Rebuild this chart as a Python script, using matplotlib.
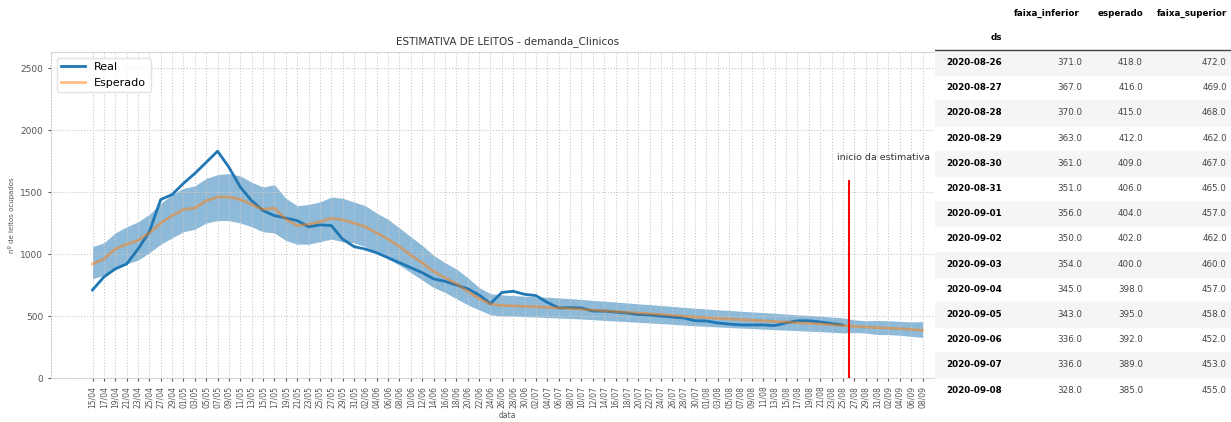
import pandas as pd
import matplotlib
matplotlib.use("Agg")
import matplotlib.pyplot as plt
import matplotlib.dates as mdates

# ==== dados (pontos a cada 2 dias) ====
datas = pd.date_range("2020-04-15", "2020-09-08", freq="2D")

real = [710, 815, 880, 920, 1040, 1180, 1440, 1480, 1570, 1650,
        1740, 1830, 1700, 1540, 1430, 1350, 1310, 1290, 1270, 1220,
        1235, 1230, 1120, 1060, 1040, 1010, 970, 930, 890, 850,
        800, 780, 750, 720, 670, 600, 690, 700, 675, 665,
        610, 565, 568, 565, 540, 540, 532, 524, 512, 508,
        500, 492, 484, 462, 460, 444, 435, 428, 428, 428,
        423, 444, 462, 462, 452, 440, 428]

esperado = [920, 960, 1040, 1080, 1110, 1170, 1250, 1310, 1360, 1370,
            1430, 1460, 1460, 1440, 1400, 1360, 1370, 1280, 1230, 1240,
            1260, 1290, 1275, 1250, 1220, 1170, 1120, 1060, 990, 930,
            860, 810, 760, 700, 640, 597, 585, 582, 578, 575,
            570, 565, 560, 555, 548, 542, 536, 530, 524, 518,
            512, 505, 498, 492, 487, 481, 476, 471, 466, 461,
            456, 451, 446, 441, 436, 430, 424, 416, 412, 406,
            402, 398, 392, 385]

faixa_inf = [800, 830, 880, 920, 950, 1010, 1080, 1130, 1180, 1200,
             1250, 1270, 1270, 1250, 1220, 1180, 1170, 1110, 1080, 1080,
             1100, 1120, 1100, 1090, 1060, 1010, 960, 910, 850, 790,
             730, 690, 640, 590, 550, 510, 500, 500, 495, 492,
             488, 484, 480, 476, 470, 465, 460, 455, 449, 444,
             439, 433, 427, 421, 417, 412, 407, 403, 399, 394,
             390, 386, 382, 378, 374, 369, 364, 367, 363, 351,
             350, 345, 336, 328]

faixa_sup = [1060, 1090, 1170, 1220, 1260, 1320, 1410, 1480, 1530, 1550,
             1610, 1640, 1650, 1630, 1580, 1540, 1560, 1450, 1390, 1400,
             1420, 1460, 1450, 1420, 1390, 1330, 1280, 1210, 1140, 1070,
             990, 930, 880, 810, 730, 680, 670, 665, 660, 656,
             652, 646, 640, 634, 626, 620, 613, 606, 598, 592,
             585, 578, 570, 563, 557, 550, 545, 539, 533, 528,
             522, 516, 510, 505, 499, 492, 485, 469, 462, 465,
             462, 457, 452, 455]

inicio = pd.Timestamp("2020-08-26")

# tabela de previsao ao lado
tab_ds = ["2020-08-26", "2020-08-27", "2020-08-28", "2020-08-29", "2020-08-30",
          "2020-08-31", "2020-09-01", "2020-09-02", "2020-09-03", "2020-09-04",
          "2020-09-05", "2020-09-06", "2020-09-07", "2020-09-08"]
tab_inf = [371.0, 367.0, 370.0, 363.0, 361.0, 351.0, 356.0, 350.0, 354.0, 345.0, 343.0, 336.0, 336.0, 328.0]
tab_esp = [418.0, 416.0, 415.0, 412.0, 409.0, 406.0, 404.0, 402.0, 400.0, 398.0, 395.0, 392.0, 389.0, 385.0]
tab_sup = [472.0, 469.0, 468.0, 462.0, 467.0, 465.0, 457.0, 462.0, 460.0, 457.0, 458.0, 452.0, 453.0, 455.0]

W, H = 1231, 422
fig = plt.figure(figsize=(W / 100, H / 100), dpi=100)
ax = fig.add_axes([51 / W, 1 - 378 / H, 913 / W, 326 / H])

ax.fill_between(datas, faixa_inf, faixa_sup, color="tab:blue", alpha=0.5, lw=0)
ax.plot(datas[:len(real)], real, color="tab:blue", lw=2, label="Real")
ax.plot(datas, esperado, color="tab:orange", lw=2, alpha=0.5, label="Esperado")

ax.vlines(inicio, 0, 1600, color="red", lw=1.5)
ax.text(inicio - pd.Timedelta(days=2), 1780, "inicio da estimativa", fontsize=6.8,
        va="center", color="#333333")

ax.set_ylim(0, 2630)
ax.set_yticks([0, 500, 1000, 1500, 2000, 2500])
ax.set_xticks(datas)
ax.xaxis.set_major_formatter(mdates.DateFormatter("%d/%m"))
ax.tick_params(axis="x", labelrotation=90, labelsize=5.5, colors="#555555", length=2)
ax.tick_params(axis="y", labelsize=6.5, colors="#555555", length=2)
ax.grid(True, linestyle=":", color="#c8c8c8", lw=0.8)
for s in ax.spines.values():
    s.set_color("#cccccc")
    s.set_linestyle(":")

ax.set_title("ESTIMATIVA DE LEITOS - demanda_Clinicos", fontsize=7.5, color="#333333", pad=6)
ax.set_xlabel("data", fontsize=5.5, color="#555555", labelpad=2)
ax.set_ylabel("nº de leitos ocupados", fontsize=5, color="#555555", labelpad=4)
ax.legend(loc="upper left", fontsize=8, frameon=True, edgecolor="#dddddd", handlelength=2.2)

# ==== tabela (parte direita, por cima do grafico) ====
tx = 935
tab = fig.add_axes([tx / W, 0, 1 - tx / W, 1])
tab.set_xlim(tx, W)
tab.set_ylim(H, 0)
tab.axis("off")
tab.add_patch(plt.Rectangle((tx, 0), W - tx, H, color="white", zorder=0))

fs = 6.3
tab.text(1080, 13, "faixa_inferior", ha="right", va="center", fontsize=fs, weight="bold")
tab.text(1143, 13, "esperado", ha="right", va="center", fontsize=fs, weight="bold")
tab.text(1227, 13, "faixa_superior", ha="right", va="center", fontsize=fs, weight="bold")
tab.text(1002, 38, "ds", ha="right", va="center", fontsize=fs, weight="bold")
tab.plot([tx, W], [50, 50], color="#444444", lw=1)

for i, ds in enumerate(tab_ds):
    y = 62.5 + 25.2 * i
    if i % 2 == 0:
        tab.add_patch(plt.Rectangle((tx, y - 12.6), W - tx, 25.2, color="#f5f5f5", zorder=0))
    tab.text(1002, y, ds, ha="right", va="center", fontsize=fs, weight="bold")
    tab.text(1082, y, f"{tab_inf[i]:.1f}", ha="right", va="center", fontsize=fs, color="#444444")
    tab.text(1143, y, f"{tab_esp[i]:.1f}", ha="right", va="center", fontsize=fs, color="#444444")
    tab.text(1227, y, f"{tab_sup[i]:.1f}", ha="right", va="center", fontsize=fs, color="#444444")

fig.savefig("out.png", dpi=100)
